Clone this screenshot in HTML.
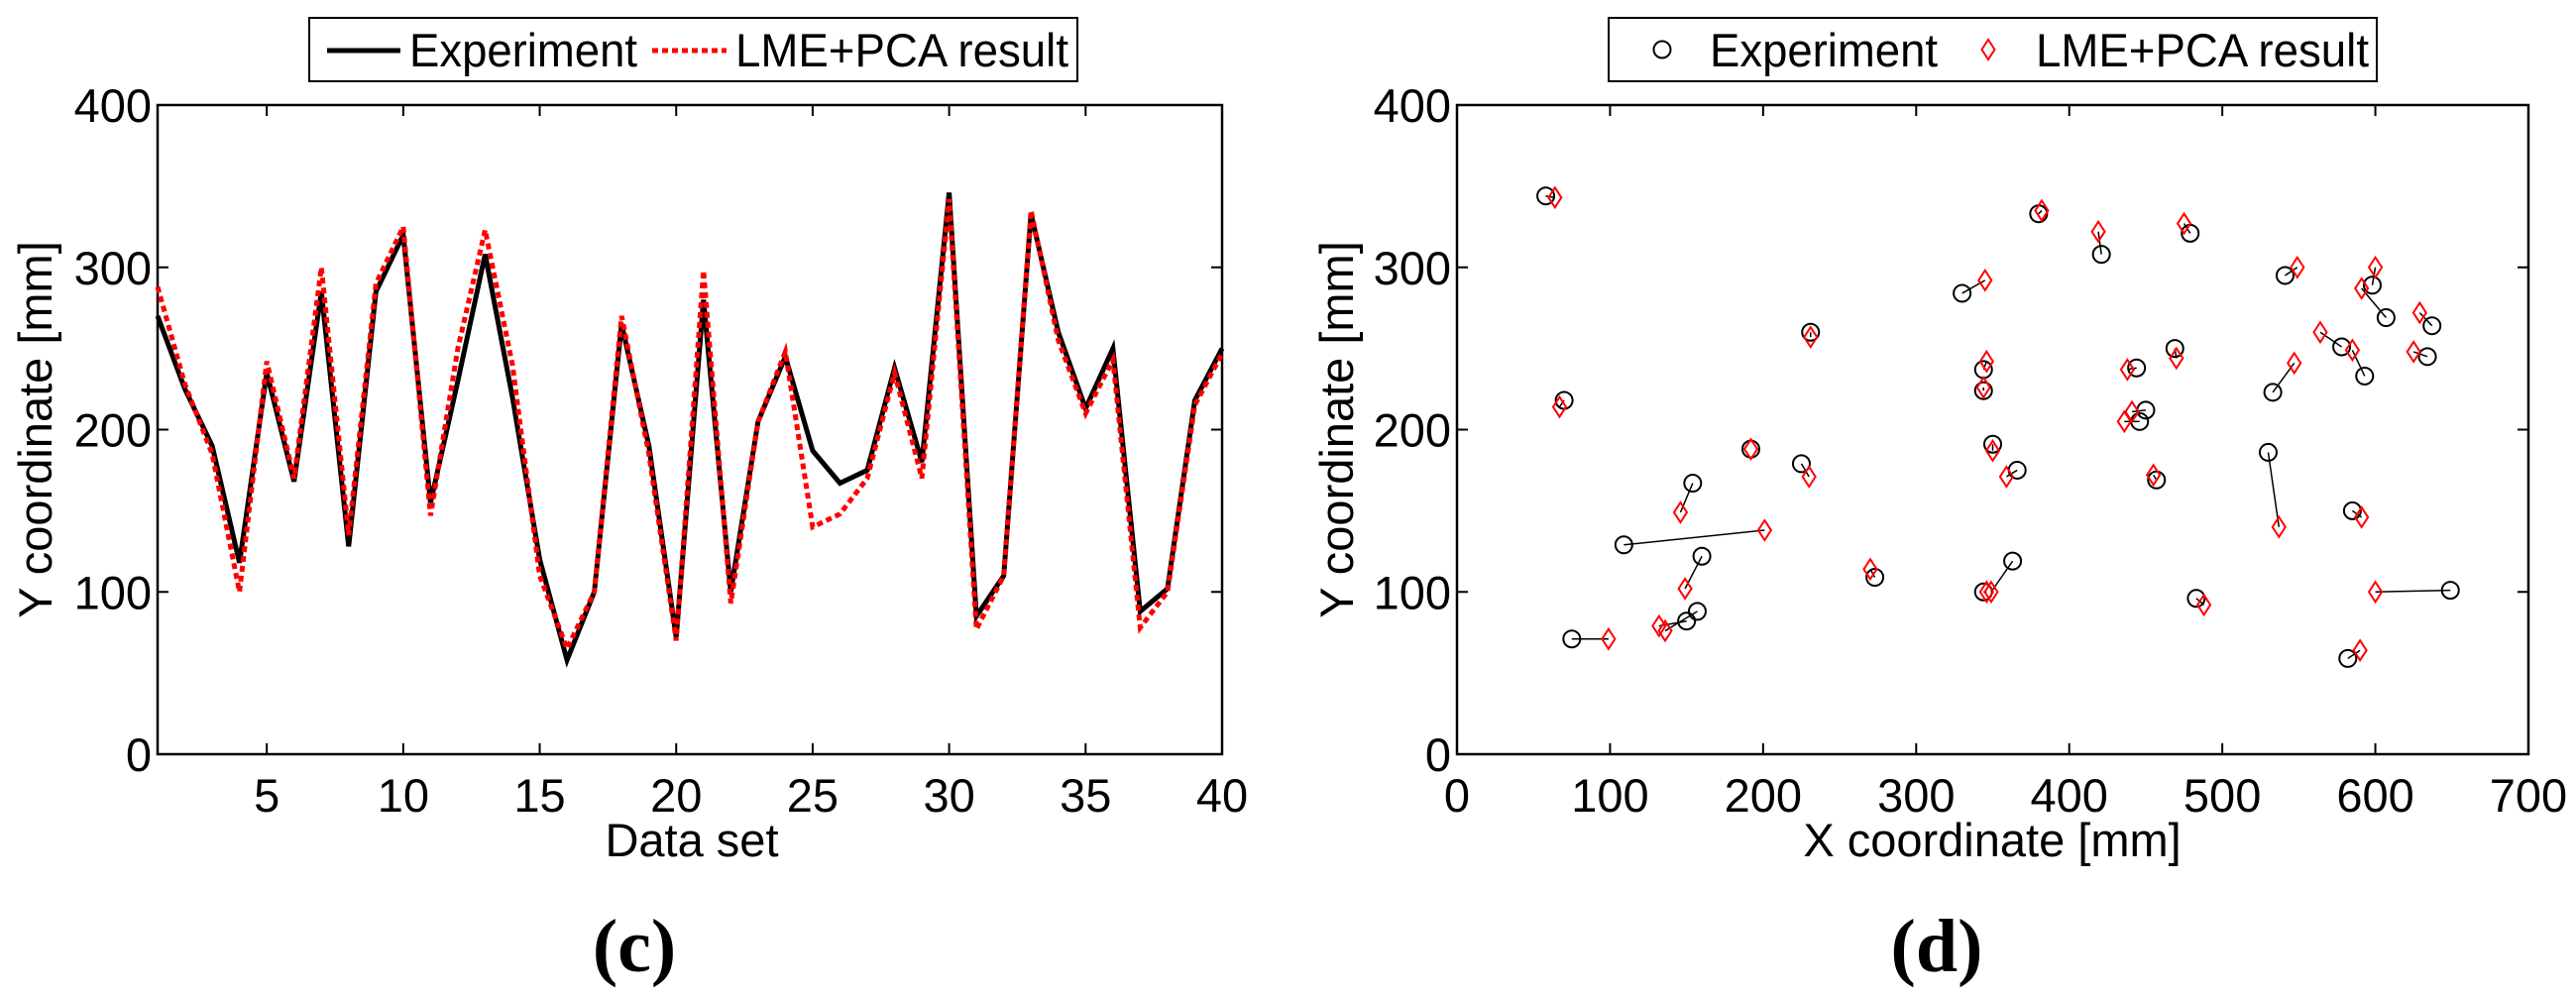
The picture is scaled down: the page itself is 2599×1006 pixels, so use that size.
<!DOCTYPE html>
<html><head><meta charset="utf-8"><style>
html,body{margin:0;padding:0;background:#fff;}
svg{display:block;font-family:"Liberation Sans",Arial,sans-serif;}
</style></head><body>
<svg id="fig" width="2599" height="1006" viewBox="0 0 2599 1006" xmlns="http://www.w3.org/2000/svg">
<g id="left"></g>
<g id="right"></g>
</svg>
<script>
// ---- chart (c) data ----
const dataSets = [1,2,3,4,5,6,7,8,9,10,11,12,13,14,15,16,17,18,19,20,21,22,23,24,25,26,27,28,29,30,31,32,33,34,35,36,37,38,39,40];
const expY = [270,225,190,118,235,168,285,128,285,320,155,230,308,220,120,58,100,265,190,72,280,100,205,245,187,167,175,238,180,346,85,110,333,260,213,250,88,102,218,250];
const lmeY = [288,228,185,100,242,170,300,135,290,325,147,250,323,240,110,65,100,270,185,70,298,93,205,248,140,148,170,235,170,342,77,110,335,255,210,243,78,100,215,247];
const cXTicks = [5,10,15,20,25,30,35,40];
const cYTicks = [0,100,200,300,400];
// ---- chart (d) data ----
const expX = [58,70,75,109,154,160,150,157,192,225,231,273,330,344,344,350,366,344,363,380,421,479,444,450,446,469,457,483,541,533,530,578,593,598,607,637,634,585,649,582];
const expYd = [344,218,71,129,167,122,82,88,188,179,260,109,284,237,224,191,175,100,119,333,308,321,238,212,205,250,169,96,295,223,186,251,233,289,269,264,245,150,101,59];
const lmeX = [64,67,99,201,146,149,132,136,192,230,231,270,345,346,344,350,359,346,349,382,419,475,438,441,436,470,455,488,549,547,537,564,585,600,591,629,625,591,600,590];
const lmeYd = [343,214,71,138,149,102,79,76,188,171,257,114,292,242,226,187,171,100,100,335,322,327,237,211,205,244,172,92,300,241,140,260,249,300,287,272,248,146,100,64];
const dXTicks = [0,100,200,300,400,500,600,700];
const dYTicks = [0,100,200,300,400];

const NS="http://www.w3.org/2000/svg";
function mk(parent,tag,attrs,text){const e=document.createElementNS(NS,tag);for(const k in attrs)e.setAttribute(k,attrs[k]);if(text!==undefined)e.textContent=text;parent.appendChild(e);return e;}

const T=106,B=761,FS=47;
// ===== chart c =====
(function(){
const g=document.getElementById('left');
const L=159,R=1233;
const sx=v=>L+(v-1)/(40-1)*(R-L);
const sy=v=>B-(v/400)*(B-T);
let e;
e=mk(g,'rect',{x:L,y:T,width:R-L,height:B-T,fill:'#fff',stroke:'#000','stroke-width':2.5});


cXTicks.forEach(v=>{
  e=mk(g,'path',{d:`M${sx(v)} ${B}v-11M${sx(v)} ${T}v11`,stroke:'#000','stroke-width':2});
  
  
  e=mk(g,'text',{x:sx(v),y:819,'font-size':FS,'text-anchor':'middle'},String(v));
  
  
});
cYTicks.forEach(v=>{
  e=mk(g,'path',{d:`M${L} ${sy(v)}h11M${R} ${sy(v)}h-11`,stroke:'#000','stroke-width':2});
  
  
  e=mk(g,'text',{x:153,y:sy(v)+17,'font-size':FS,'text-anchor':'end'},String(v));
  
  
});
e=mk(g,'polyline',{points:dataSets.map((d,i)=>sx(d)+','+sy(expY[i])).join(' '),fill:'none',stroke:'#000','stroke-width':5,'stroke-linejoin':'miter'});


e=mk(g,'polyline',{points:dataSets.map((d,i)=>sx(d)+','+sy(lmeY[i])).join(' '),fill:'none',stroke:'#ff0000','stroke-width':5,'stroke-dasharray':'6 4'});


e=mk(g,'text',{x:698,y:864,'font-size':FS,'text-anchor':'middle'},'Data set');


e=mk(g,'text',{x:0,y:0,'font-size':FS,'text-anchor':'middle',transform:`translate(52,${(T+B)/2}) rotate(-90)`},'Y coordinate [mm]');


e=mk(g,'text',{x:640,y:980,'font-size':76,'text-anchor':'middle','font-family':'Liberation Serif, serif','font-weight':'bold'},'(c)');


const lg=mk(g,'g',{});


mk(lg,'rect',{x:312,y:18,width:775,height:64,fill:'#fff',stroke:'#000','stroke-width':2});
mk(lg,'line',{x1:330,y1:51,x2:404,y2:51,stroke:'#000','stroke-width':5});
e=mk(lg,'text',{x:413,y:67,'font-size':FS,textLength:230,lengthAdjust:'spacingAndGlyphs'},'Experiment');


mk(lg,'line',{x1:658,y1:51,x2:733,y2:51,stroke:'#ff0000','stroke-width':5,'stroke-dasharray':'6 4'});
e=mk(lg,'text',{x:742,y:67,'font-size':FS,textLength:336,lengthAdjust:'spacingAndGlyphs'},'LME+PCA result');


})();

// ===== chart d =====
(function(){
const g=document.getElementById('right');
const L=1470,R=2551;
const sx=v=>L+(v/700)*(R-L);
const sy=v=>B-(v/400)*(B-T);
let e;
e=mk(g,'rect',{x:L,y:T,width:R-L,height:B-T,fill:'#fff',stroke:'#000','stroke-width':2.5});


dXTicks.forEach(v=>{
  e=mk(g,'path',{d:`M${sx(v)} ${B}v-11M${sx(v)} ${T}v11`,stroke:'#000','stroke-width':2});
  
  
  e=mk(g,'text',{x:sx(v),y:819,'font-size':FS,'text-anchor':'middle'},String(v));
  
  
});
dYTicks.forEach(v=>{
  e=mk(g,'path',{d:`M${L} ${sy(v)}h11M${R} ${sy(v)}h-11`,stroke:'#000','stroke-width':2});
  
  
  e=mk(g,'text',{x:1464,y:sy(v)+17,'font-size':FS,'text-anchor':'end'},String(v));
  
  
});
expX.forEach((x,i)=>{
  e=mk(g,'line',{x1:sx(x),y1:sy(expYd[i]),x2:sx(lmeX[i]),y2:sy(lmeYd[i]),stroke:'#000','stroke-width':1.5});
  
  
});
expX.forEach((x,i)=>{
  e=mk(g,'circle',{cx:sx(x),cy:sy(expYd[i]),r:8.5,fill:'none',stroke:'#000','stroke-width':2});
  
  
});
lmeX.forEach((x,i)=>{
  const cx=sx(x),cy=sy(lmeYd[i]);
  e=mk(g,'path',{d:`M${cx} ${cy-10}L${cx+6.5} ${cy}L${cx} ${cy+10}L${cx-6.5} ${cy}Z`,fill:'none',stroke:'#ff0000','stroke-width':2});
  
  
});
e=mk(g,'text',{x:2010,y:864,'font-size':FS,'text-anchor':'middle'},'X coordinate [mm]');


e=mk(g,'text',{x:0,y:0,'font-size':FS,'text-anchor':'middle',transform:`translate(1365,${(T+B)/2}) rotate(-90)`},'Y coordinate [mm]');


e=mk(g,'text',{x:1954,y:980,'font-size':76,'text-anchor':'middle','font-family':'Liberation Serif, serif','font-weight':'bold'},'(d)');


const lg=mk(g,'g',{});


mk(lg,'rect',{x:1623,y:18,width:775,height:64,fill:'#fff',stroke:'#000','stroke-width':2});
mk(lg,'circle',{cx:1677,cy:50,r:8.5,fill:'none',stroke:'#000','stroke-width':2});
e=mk(lg,'text',{x:1725,y:67,'font-size':FS,textLength:230,lengthAdjust:'spacingAndGlyphs'},'Experiment');


mk(lg,'path',{d:'M2006 40L2012.5 50L2006 60L1999.5 50Z',fill:'none',stroke:'#ff0000','stroke-width':2});
e=mk(lg,'text',{x:2054,y:67,'font-size':FS,textLength:336,lengthAdjust:'spacingAndGlyphs'},'LME+PCA result');


})();
</script>
</body></html>
